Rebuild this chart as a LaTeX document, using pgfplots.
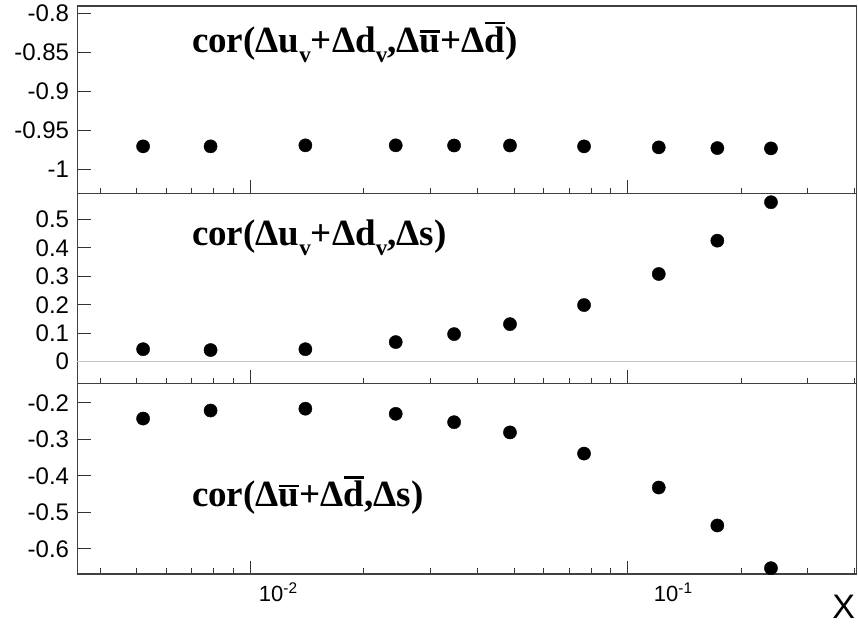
\documentclass[border=0pt]{standalone}
\usepackage{pgfplots}
\pgfplotsset{compat=1.18}
\usepgfplotslibrary{groupplots}
\usepackage{fontspec}
\setmainfont{Liberation Sans}
\newfontfamily\timesb{Liberation Serif}
\newcommand\ovl[1]{\leavevmode\vbox{\hrule height 2.2pt\kern 2.6pt\hbox{#1}}}
\newcommand\sub[1]{\raisebox{-0.28em}{\fontsize{23}{23}\selectfont #1}}
\begin{document}
\begin{tikzpicture}
\pgfplotsset{
  panel/.style={
    scale only axis, width=779pt,
    xmode=log, xmin=0.00348, xmax=0.404,
    xtick={0.01,0.1}, xticklabels={},
    minor xtick={0.004,0.005,0.006,0.007,0.008,0.009,0.02,0.03,0.04,0.05,0.06,0.07,0.08,0.09,0.2,0.3,0.4},
    xtick pos=bottom, ytick pos=left, tick align=inside,
    major tick length=13.5pt, minor tick length=6pt,
    axis line style={black!75, line width=1.1pt},
    every tick/.style={black!80, line width=0.9pt},
    yticklabel style={font=\fontsize{24}{25}\selectfont, inner sep=0pt, xshift=-8pt},
    clip=false,
  },
  dots/.style={only marks, mark=*, mark size=6.6pt, black},
}
\begin{groupplot}[group style={group size=1 by 3, vertical sep=0pt}, panel]
\nextgroupplot[height=187.5pt, ymin=-1.0304, ymax=-0.7906,
  ytick={-1,-0.95,-0.9,-0.85,-0.8}, yticklabels={-1,-0.95,-0.9,-0.85,-0.8}]
\addplot[dots] coordinates {(0.0052,-0.9701) (0.00785,-0.9701) (0.0140,-0.9688) (0.0243,-0.9688) (0.0347,-0.9690) (0.0488,-0.9690) (0.0767,-0.9701) (0.121,-0.9714) (0.173,-0.9723) (0.240,-0.9727)};
\node[anchor=base west, inner sep=0pt, font=\timesb\bfseries\fontsize{37}{40}\selectfont] at (rel axis cs:0.147,0.754)
  {cor(Δu\sub{v}+Δd\sub{v},Δ\ovl{u}+Δ\ovl{d})};
\nextgroupplot[height=190pt, ymin=-0.0765, ymax=0.5906,
  ytick={0,0.1,0.2,0.3,0.4,0.5}, yticklabels={0,0.1,0.2,0.3,0.4,0.5}]
\addplot[gray!45, line width=0.8pt] coordinates {(0.00348,0) (0.404,0)};
\addplot[dots] coordinates {(0.0052,0.044) (0.00785,0.041) (0.0140,0.044) (0.0243,0.069) (0.0347,0.097) (0.0488,0.132) (0.0767,0.199) (0.121,0.308) (0.173,0.425) (0.240,0.560)};
\node[anchor=base west, inner sep=0pt, font=\timesb\bfseries\fontsize{37}{40}\selectfont] at (rel axis cs:0.147,0.726)
  {cor(Δu\sub{v}+Δd\sub{v},Δs)};
\nextgroupplot[height=190.5pt, ymin=-0.669, ymax=-0.147,
  ytick={-0.6,-0.5,-0.4,-0.3,-0.2}, yticklabels={-0.6,-0.5,-0.4,-0.3,-0.2}]
\addplot[dots] coordinates {(0.0052,-0.243) (0.00785,-0.221) (0.0140,-0.216) (0.0243,-0.230) (0.0347,-0.253) (0.0488,-0.281) (0.0767,-0.339) (0.121,-0.432) (0.173,-0.536) (0.240,-0.653)};
\node[anchor=base west, inner sep=0pt, font=\timesb\bfseries\fontsize{37}{40}\selectfont] at (rel axis cs:0.147,0.353)
  {cor(Δ\ovl{u}+Δ\ovl{d},Δs)};
\node[anchor=north west, inner sep=0pt, font=\fontsize{22}{24}\selectfont] at ([yshift=-9pt]rel axis cs:0.233,0) {10\textsuperscript{-2}};
\node[anchor=north west, inner sep=0pt, font=\fontsize{22}{24}\selectfont] at ([yshift=-9pt]rel axis cs:0.740,0) {10\textsuperscript{-1}};
\node[anchor=north east, inner sep=0pt, font=\fontsize{34}{34}\selectfont] at ([yshift=-21pt,xshift=-1pt]rel axis cs:1,0) {X};
\end{groupplot}
\pgfresetboundingbox
\path (group c1r1.north west) ++(-77.3pt,6pt) rectangle ++(858pt,-625pt);
\end{tikzpicture}
\end{document}
